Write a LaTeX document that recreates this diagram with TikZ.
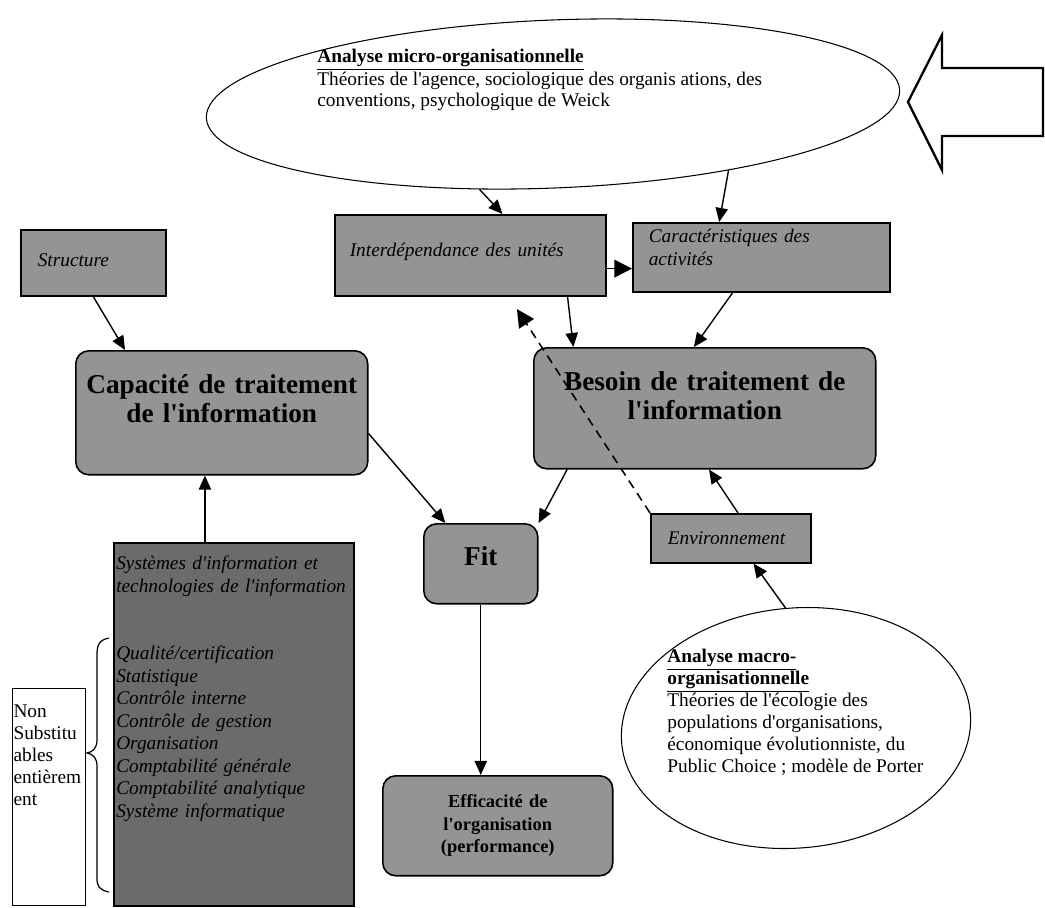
\documentclass[tikz,border=0pt]{standalone}
\usepackage{fontspec}
\setmainfont{Liberation Serif}[Ligatures=TeXOff]
\usetikzlibrary{arrows.meta,shapes.geometric}
\definecolor{boxgray}{gray}{0.58}
\definecolor{darkgray}{gray}{0.42}
\hyphenpenalty=10000
\exhyphenpenalty=10000

\begin{document}
\begin{tikzpicture}[x=0.02cm,y=-0.02cm,
arr/.style={-{Triangle[length=8pt,width=7pt]},line width=0.8pt},
darr/.style={-{Triangle[length=10pt,width=10pt]},line width=0.9pt,dash pattern=on 5pt off 3.5pt},
gbox/.style args={#1/#2/#3}{draw,line width=0.9pt,fill=boxgray,anchor=north west,inner ysep=0pt,align=left,text width=#1,text height=#2,text depth=#3},
rbox/.style args={#1/#2/#3}{gbox=#1/#2/#3,rounded corners=0.26cm,align=center,inner xsep=0.1cm},
ittext/.style={font=\fontsize{11}{12.8}\selectfont\itshape},
bigtext/.style={font=\fontsize{15.5}{16.5}\selectfont\bfseries}]
\path[use as bounding box,fill=white] (0,0) rectangle (1045,907);
% analyse micro
\node (micro) [draw,ellipse,line width=0.6pt,minimum width=13.88cm,minimum height=3.36cm,rotate=2.3,inner sep=0pt] at (553,104) {};
\node (microtxt) [anchor=north west,align=left,inner sep=0pt,font=\fontsize{11}{12}\selectfont] at (317,49) {\textbf{\underline{Analyse micro-organisationnelle}}\\Théories de l'agence, sociologique des organis ations, des\\conventions, psychologique de Weick};
\draw[line width=1.3pt,line join=miter] (908,102) -- (942,35) -- (942,68) -- (1043,68) -- (1043,136) -- (942,136) -- (942,170) -- cycle;
% boites du haut
\node (struct) [gbox=2.22cm/0.74cm/0.58cm,inner xsep=0.34cm,ittext] at (20,229) {Structure};
\node (interd) [gbox=4.82cm/0.83cm/0.79cm,inner xsep=0.3cm,ittext] at (334,214) {Interdépendance des unités};
\node (carac) [gbox=4.5cm/0.4cm/0.98cm,inner xsep=0.32cm,ittext] at (632,222) {Caractéristiques des\\activités};
% traitement de l'information
\node (capa) [rbox=5.64cm/0.85cm/1.63cm,bigtext] at (75,350) {Capacité de traitement\\de l'information};
\node (besoin) [rbox=6.64cm/0.85cm/1.57cm,bigtext] at (533,347) {Besoin de traitement de\\l'information};
\node (fit) [rbox=2.08cm/0.83cm/0.77cm,bigtext] at (423,523) {Fit};
\node (env) [gbox=2.52cm/0.62cm/0.36cm,inner xsep=0.34cm,ittext] at (650,513) {Environnement};
\node (effi) [rbox=4.4cm/0.63cm/1.37cm,font=\fontsize{10.5}{13}\selectfont\bfseries] at (382,775) {Efficacité de\\l'organisation\\(performance)};
% systemes d'information
\node (sys) [gbox=4.7cm/0.54cm/6.72cm,inner xsep=0.05cm,ittext,fill=darkgray] at (113,542) {Systèmes d'information et\\technologies de l'information\\[25.6pt]Qualité/certification\\Statistique\\Contrôle interne\\Contrôle de gestion\\Organisation\\Comptabilité générale\\Comptabilité analytique\\Système informatique};
\node (nonsub) [gbox=1.42cm/0.58cm/3.76cm,inner xsep=0.02cm,fill=white,line width=0.6pt,font=\fontsize{11}{12.5}\selectfont] at (12,688) {Non\\Substitu\\ables\\entièrem\\ent};
\draw[line width=0.7pt] (109,638) .. controls (99,640) and (97,645) .. (97,655) -- (97,740) .. controls (97,748) and (93,752) .. (87,753) .. controls (93,754) and (97,758) .. (97,766) -- (97,878) .. controls (97,886) and (99,890) .. (109,892);
% analyse macro
\node (macro) [draw,ellipse,line width=0.6pt,minimum width=7cm,minimum height=4.8cm,rotate=5,inner sep=0pt] at (796,728) {};
\node (macrotxt) [anchor=north west,align=left,inner sep=0pt,font=\fontsize{11}{12.5}\selectfont] at (667,649) {\textbf{\underline{Analyse macro-}}\\\textbf{\underline{organisationnelle}}\\Théories de l'écologie des\\populations d'organisations,\\économique évolutionniste, du\\Public Choice ; modèle de Porter};
% fleches
\foreach \from/\to in {micro.227/interd.52,micro.-23/carac.140,struct.south/capa.147,interd.-23/besoin.155,carac.231/besoin.100,sys.north -| capa.-105/capa.-105,capa.-8/fit.131,besoin.204/fit.north east,env.74/besoin.-86,macro.north/env.-48,fit.south/fit.south |- effi.north}
\draw[arr] (\from) -- (\to);
\draw[darr] (interd.east |- carac.185) -- (carac.185);
\draw[darr,shorten >=0.3cm] (env.north west) -- (interd.-47);
\end{tikzpicture}
\end{document}
